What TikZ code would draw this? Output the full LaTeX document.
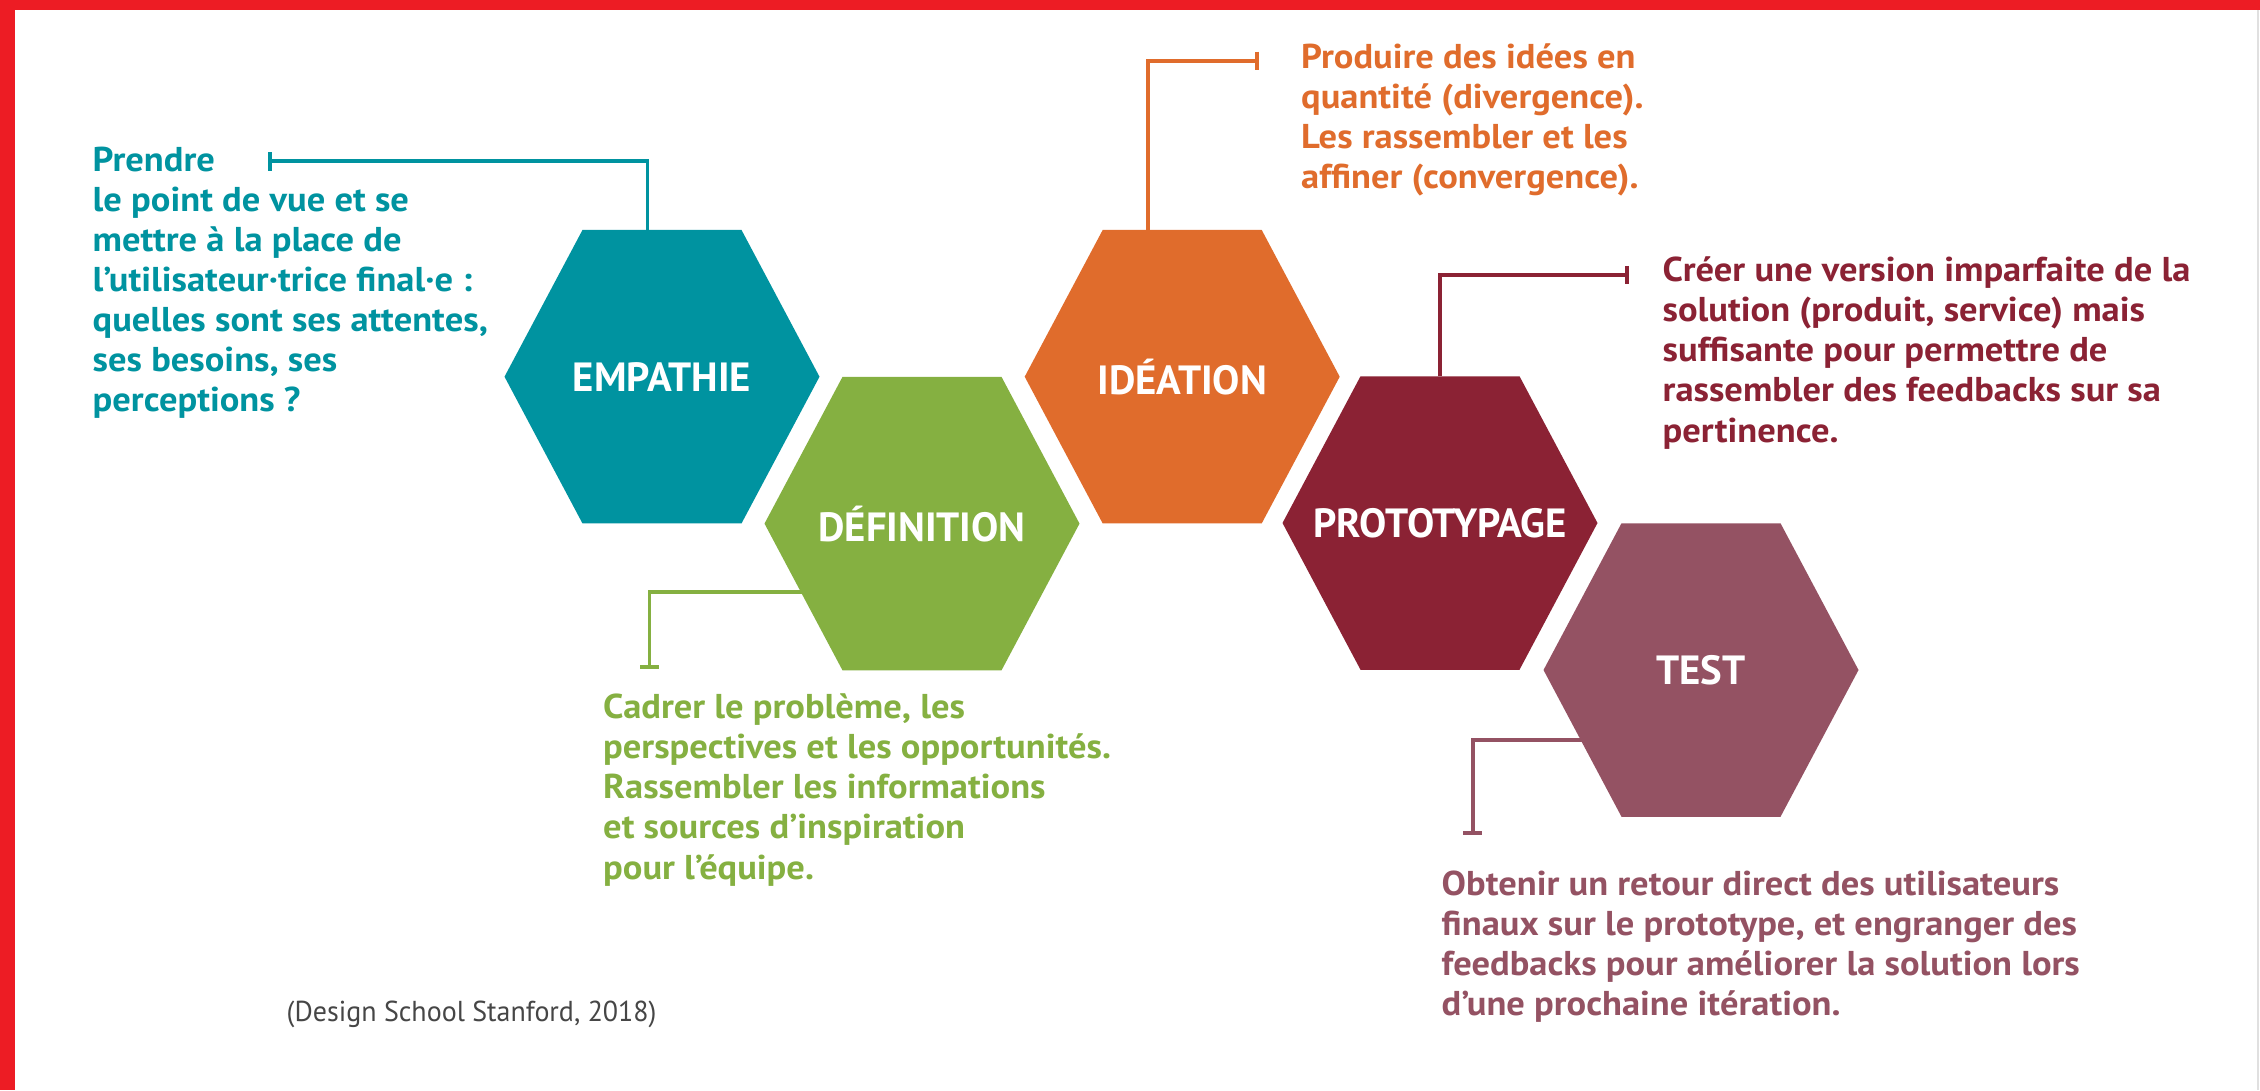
\documentclass[tikz,border=0pt]{standalone}
\usepackage{fontspec}
\setmainfont{PT Sans}
\newfontfamily\bodyfont[FakeStretch=1.06]{PT Sans}
\newfontfamily\citefont[FakeStretch=0.97]{PT Sans}
\usepackage{tikz}
\usetikzlibrary{positioning, arrows.meta}
\definecolor{DTTeal}{RGB}{0,147,160}
\definecolor{DTGreen}{RGB}{133,176,65}
\definecolor{DTOrange}{RGB}{224,108,44}
\definecolor{DTWine}{RGB}{139,34,52}
\definecolor{DTMauve}{RGB}{148,82,99}
\definecolor{DTRed}{RGB}{237,28,36}
\definecolor{DTGray}{RGB}{70,70,70}
\pgfdeclarelayer{background}
\pgfsetlayers{background,main}

\begin{document}
\begin{tikzpicture}[
          hexa/.style={rectangle, minimum width=3.15cm, minimum height=2.935cm,
                       inner sep=0pt, outer sep=0pt, text=white,
                       font=\bfseries\fontsize{11.6}{12}\selectfont},
          txt/.style={anchor=base west, align=left, inner sep=0pt,
                      font=\bodyfont\bfseries\fontsize{9.8}{11.4}\selectfont},
          con/.style={line width=1.1pt, -{Bar[width=5.2pt, line width=1.1pt]}}
        ]
        \useasboundingbox (0, 0) rectangle (22.6, 10.9);

        % Stages
        \node[hexa] (emp) at (6.62, 7.133) {EMPATHIE};
        \node[hexa] (def) at (9.22, 5.664) {DÉFINITION};
        \node[hexa] (ide) at (11.822, 7.133) {IDÉATION};
        \node[hexa] (pro) at (14.40, 5.67) {PROTOTYPAGE};
        \node[hexa] (tst) at (17.01, 4.20) {TEST};

        % Descriptions (placed at the baseline of the last line)
        \node[txt, text=DTTeal] (empTxt) at (0.92, 6.786)
              {Prendre\\le point de vue et se\\mettre à la place de\\l’utilisateur·trice final·e :\\quelles sont ses attentes,\\ses besoins, ses\\perceptions ?};
        \node[txt, text=DTGreen] (defTxt) at (6.025, 2.11)
              {Cadrer le problème, les\\perspectives et les opportunités.\\Rassembler les informations\\et sources d’inspiration\\pour l’équipe.};
        \node[txt, text=DTOrange] (ideTxt) at (13.005, 9.014)
              {Produire des idées en\\quantité (divergence).\\Les rassembler et les\\affiner (convergence).};
        \node[txt, text=DTWine] (proTxt) at (16.62, 6.48)
              {Créer une version imparfaite de la\\solution (produit, service) mais\\suffisante pour permettre de\\rassembler des feedbacks sur sa\\pertinence.};
        \node[txt, text=DTMauve] (tstTxt) at (14.41, 0.743)
              {Obtenir un retour direct des utilisateurs\\finaux sur le prototype, et engranger des\\feedbacks pour améliorer la solution lors\\d’une prochaine itération.};

        % Source
        \node[anchor=base west, inner sep=0pt, text=DTGray,
              font=\citefont\fontsize{8.2}{10}\selectfont] (src) at (2.86, 0.69)
              {(Design School Stanford, 2018)};

        % Ends of the connectors
        \coordinate (empTick) at (2.68, 9.286);
        \coordinate (defTick) at (6.495, 4.21);
        \coordinate (ideTick) at (12.593, 10.293);
        \coordinate (proTick) at (16.285, 8.15);
        \coordinate (tstTick) at (14.726, 2.55);

        \begin{pgfonlayer}{background}
          % Frame
          \fill[white] (0, 0) rectangle (22.6, 10.9);
          \fill[DTRed] (0, 0) rectangle (0.145, 10.9);
          \fill[DTRed] (0, 10.8) rectangle (22.6, 10.9);
          \draw[black!12, line width=0.6pt] (22.58, 0) -- (22.58, 10.8);

          \draw[con, DTTeal] ([xshift=-1.45mm]emp.north) |- (empTick);
          \draw[con, DTGreen] ([yshift=-6.8mm]def.center) -| (defTick);
          \draw[con, DTOrange] ([xshift=-3.44mm]ide.north) |- (ideTick);
          \draw[con, DTWine] (pro.north) |- (proTick);
          \draw[con, DTMauve] ([yshift=-7mm]tst.center) -| (tstTick);

          % Hexagon bodies
          \foreach \n/\c in {emp/DTTeal, def/DTGreen, ide/DTOrange, pro/DTWine, tst/DTMauve}
            \fill[\c] (\n.west) -- ([xshift=7.8mm]\n.north west)
                      -- ([xshift=-7.8mm]\n.north east) -- (\n.east)
                      -- ([xshift=-7.8mm]\n.south east)
                      -- ([xshift=7.8mm]\n.south west) -- cycle;
        \end{pgfonlayer}
      \end{tikzpicture}
\end{document}
